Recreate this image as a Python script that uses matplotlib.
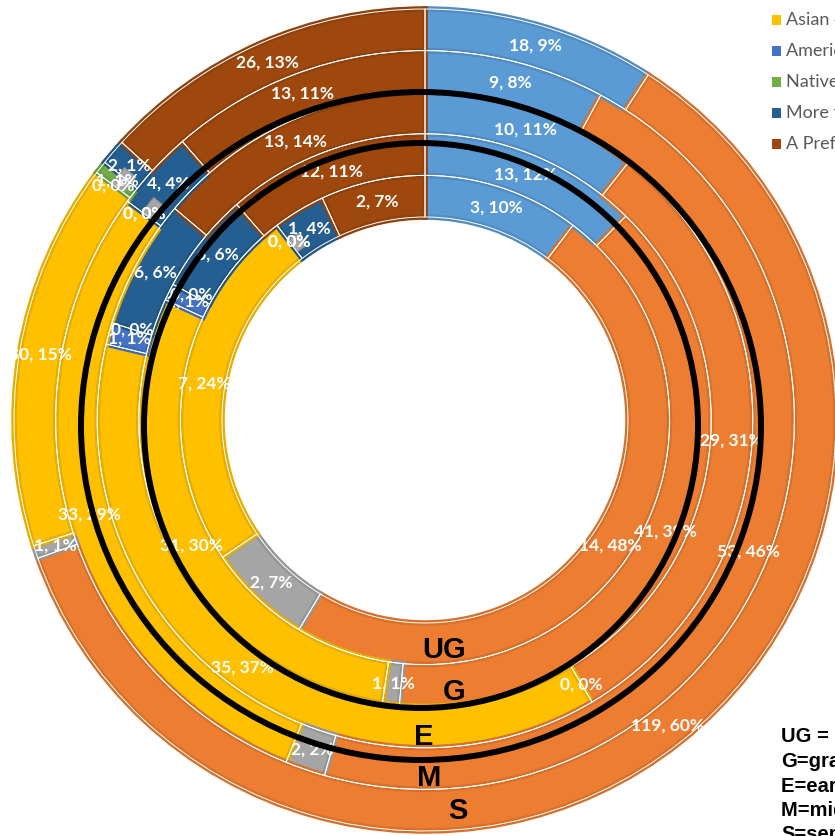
import numpy as np
import matplotlib.pyplot as plt
from matplotlib.patches import Wedge, Ellipse, Rectangle
from matplotlib.colors import to_rgb

# rings from inside to outside
rings = ['UG', 'G', 'E', 'M', 'S']
ring_notes = ['UG = undergraduate', 'G=graduate', 'E=early career',
              'M=mid career', 'S=senior']

categories = ['Black or African American', 'White', 'Hispanic or Latino',
              'Asian or Asian American', 'American Indian or Alaska Native',
              'Native Hawaiian or Pacific Islander', 'More than one race',
              'A Prefer not to answer']
colors = ['#5B9BD5', '#ED7D31', '#A5A5A5', '#FFC000',
          '#4472C4', '#70AD47', '#255E91', '#9E480E']

ug_counts = [3, 14, 2, 7, 0, 0, 1, 2]
ug_pcts = [10, 48, 7, 24, 0, 0, 4, 7]
g_counts = [13, 41, 1, 31, 1, 0, 6, 12]
g_pcts = [12, 39, 1, 30, 1, 0, 6, 11]
e_counts = [10, 29, 0, 35, 1, 0, 6, 13]
e_pcts = [11, 31, 0, 37, 1, 0, 6, 14]
m_counts = [9, 53, 2, 33, 0, 0, 4, 13]
m_pcts = [8, 46, 2, 29, 0, 0, 4, 11]
s_counts = [18, 119, 1, 30, 0, 1, 2, 26]
s_pcts = [9, 60, 1, 15, 0, 1, 1, 13]

all_counts = [ug_counts, g_counts, e_counts, m_counts, s_counts]
all_pcts = [ug_pcts, g_pcts, e_pcts, m_pcts, s_pcts]

SCALE = 411.0          # pixels per unit radius
CX, CY = 425, 420      # centre of the doughnut in pixels
hole = 203 / SCALE
width = (1 - hole) / 5


def px(x, y):
    return (x - CX) / SCALE, (CY - y) / SCALE


def darker(c, f=0.9):
    r, g, b = to_rgb(c)
    return (r * f, g * f, b * f)


fig = plt.figure(figsize=(8.35, 8.36), dpi=100)
ax = fig.add_axes([0, 0, 1, 1])
ax.set_xlim(-CX / SCALE, (835 - CX) / SCALE)
ax.set_ylim(-(836 - CY) / SCALE, CY / SCALE)
ax.axis('off')

for i, (counts, pcts) in enumerate(zip(all_counts, all_pcts)):
    r_in = hole + i * width
    r_out = r_in + width
    total = sum(counts)
    start = 0.0
    for k, (c, p, col) in enumerate(zip(counts, pcts, colors)):
        span = 360.0 * c / total
        end = start + span
        if c > 0:
            ax.add_patch(Wedge((0, 0), r_out, 90 - end, 90 - start, width=width,
                               facecolor=col, edgecolor=darker(col), lw=4, zorder=2))
            ax.add_patch(Wedge((0, 0), r_out, 90 - end, 90 - start, width=width,
                               fill=False, edgecolor='white', lw=0.7, zorder=3))
        elif k == 4:
            # little grey stub that excel leaves for an empty slice
            a = 90 - start
            ax.add_patch(Wedge((0, 0), r_in + 0.55 * width, a - 3, a, width=0.35 * width,
                               facecolor='#A5A5A5', edgecolor='#969696', lw=1, zorder=3))
        mid = np.radians(start + span / 2)
        rm = r_in + width / 2
        ax.text(rm * np.sin(mid), rm * np.cos(mid), f'{c}, {p}%',
                ha='center', va='center', color='white', fontsize=12.5,
                fontfamily='Lato', fontweight='bold', zorder=5)
        start = end

# hand drawn black rings around the E ring
x0, y0 = px(421, 426)
ax.add_patch(Ellipse((x0, y0), 2 * 340 / SCALE, 2 * 334 / SCALE, fill=False,
                     edgecolor='black', lw=4.3, zorder=6))
x0, y0 = px(421, 425.5)
ax.add_patch(Ellipse((x0, y0), 2 * 277 / SCALE, 2 * 282.5 / SCALE, fill=False,
                     edgecolor='black', lw=4.3, zorder=6))

# ring names
name_pos = [(444, 650), (454, 692), (424, 737), (429, 778), (458, 811)]
for name, (x, y) in zip(rings, name_pos):
    ax.text(*px(x, y), name, ha='center', va='center', fontsize=21,
            fontfamily='Liberation Sans', fontweight='bold', color='black', zorder=7)

# legend (top right, runs off the page like the original)
for k, (cat, col) in enumerate(zip(categories, colors)):
    y = 20 + (k - 3) * 31
    ax.add_patch(Rectangle(((772) / 835, 1 - (y + 5) / 836), 9 / 835, 10 / 836,
                           transform=ax.transAxes, facecolor=col, edgecolor='none'))
    ax.text(786 / 835, 1 - y / 836, cat, transform=ax.transAxes, ha='left',
            va='center', fontsize=13, fontfamily='Lato', color='#595959')

# key to the ring names
for k, note in enumerate(ring_notes):
    ax.text(781 / 835, 1 - (737 + 24.5 * k) / 836, note, transform=ax.transAxes,
            ha='left', va='center', fontsize=14.5, fontfamily='Liberation Sans',
            fontweight='bold', color='black')

fig.savefig('out.png', dpi=100)
